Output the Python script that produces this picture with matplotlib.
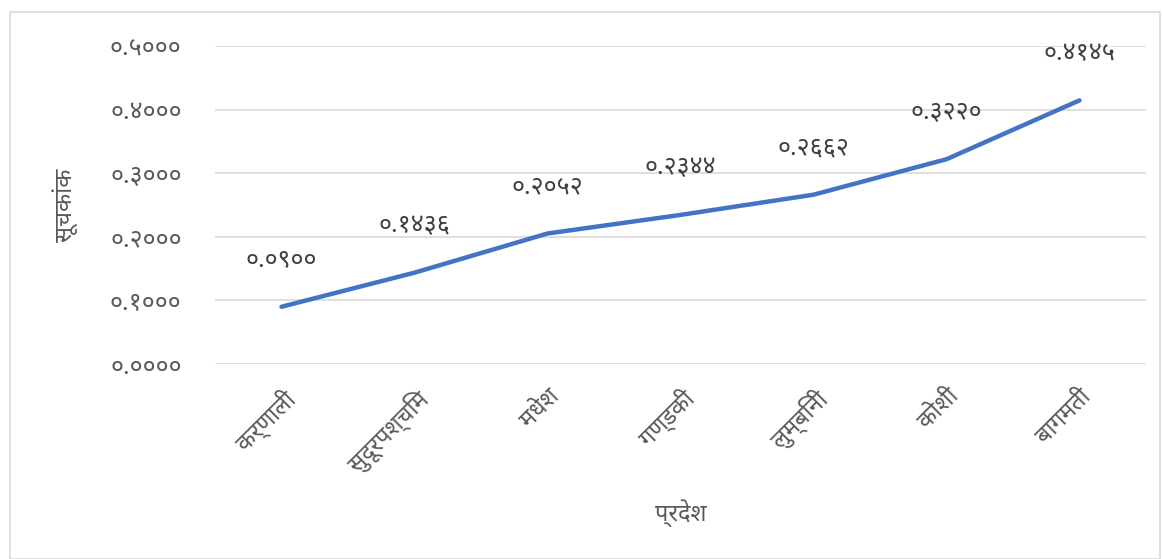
import matplotlib.pyplot as plt
from matplotlib.patches import Rectangle

plt.rcParams['font.family'] = ['Noto Sans Devanagari', 'Lohit Devanagari', 'Noto Sans', 'DejaVu Sans']

# प्रदेश अनुसार सूचकांक
provinces = ["कर्णाली", "सुदूरपश्चिम", "मधेश", "गण्डकी", "लुम्बिनी", "कोशी", "बागमती"]
index_values = [0.0900, 0.1436, 0.2052, 0.2344, 0.2662, 0.3220, 0.4145]
y_ticks = [0.0, 0.1, 0.2, 0.3, 0.4, 0.5]

nepali_digits = str.maketrans("0123456789", "०१२३४५६७८९")


def to_nepali(v):
    return ("%.4f" % v).translate(nepali_digits)


fig = plt.figure(figsize=(11.62, 5.59), dpi=100)
ax = fig.add_axes([215 / 1162, 1 - 364 / 559, 931 / 1162, 318 / 559])

# outer chart border
fig.patches.append(Rectangle((10 / 1162, 0), 1150 / 1162, 547 / 559, transform=fig.transFigure,
                             fill=False, edgecolor="#d9d9d9", linewidth=1.2))

x = list(range(len(provinces)))
ax.plot(x, index_values, color="#4472C4", linewidth=3.2, solid_capstyle="round")

for xi, v in zip(x, index_values):
    ax.annotate(to_nepali(v), (xi, v), xytext=(0, 25), textcoords="offset points",
                ha="center", va="bottom", fontsize=18, color="#404040")

ax.set_xlim(-0.5, len(provinces) - 0.5)
ax.set_ylim(0, 0.5)
ax.set_yticks(y_ticks)
ax.set_yticklabels([to_nepali(t) for t in y_ticks], fontsize=18, color="#595959")
ax.set_xticks(x)
ax.set_xticklabels(provinces, rotation=45, ha="right", rotation_mode="anchor",
                   fontsize=17, color="#595959")
ax.tick_params(axis="both", length=0)
ax.tick_params(axis="y", pad=24)
ax.tick_params(axis="x", pad=15)
ax.grid(axis="y", color="#d9d9d9", linewidth=1.2)
ax.set_axisbelow(True)
for s in ax.spines.values():
    s.set_visible(False)

ax.set_ylabel("सूचकांक", fontsize=17, color="#595959", labelpad=22)
ax.set_xlabel("प्रदेश", fontsize=17, color="#595959", labelpad=16)

fig.savefig("out.png", dpi=100)
